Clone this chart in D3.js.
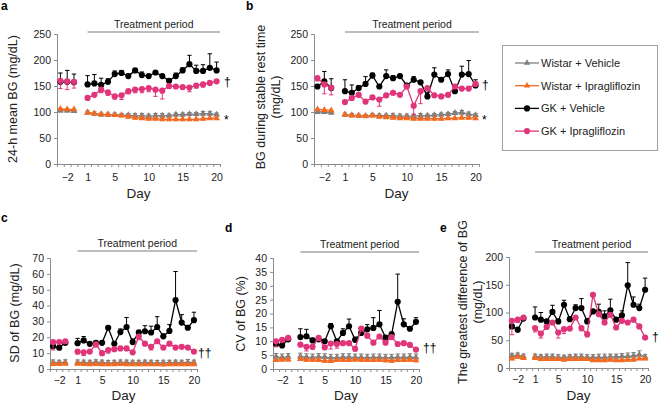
<!DOCTYPE html>
<html><head><meta charset="utf-8">
<script src="https://cdn.jsdelivr.net/npm/d3@7"></script>
<style>
html,body{margin:0;padding:0;background:#fff;}
svg{display:block;font-family:"Liberation Sans",Arial,sans-serif;}
</style></head><body>
<svg id="c" width="660" height="404"></svg>
<script>
// ---------- data ----------
const days = [-3,-2,-1,1,2,3,4,5,6,7,8,9,10,11,12,13,14,15,16,17,18,19,20];
const xTickDays = [-2,1,5,10,15,20];
const seriesNames = ["Wistar + Vehicle","Wistar + Ipragliflozin","GK + Vehicle","GK + Ipragliflozin"];

// panel a: 24-h mean BG
const aWV  = [103,103,102, 99,97,95,95,95,94,94,93,93,92,93,93,93,95,95,96,96,97,97,95];
const aWVe = [3,3,3, 3,3,3,3,3,3,3,4,4,4,4,4,3,3,3,3,3,4,4,3];
const aWI  = [106,105,105, 99,97,96,95,94,93,91,89,88,87,87,86,86,86,86,86,86,87,88,88];
const aWIe = [2,2,2, 2,2,2,2,2,2,2,2,2,2,2,2,2,2,2,2,2,2,2,2];
const aGV  = [158,158,157, 153,155,152,158,173,175,169,180,171,169,176,169,160,169,180,192,179,179,185,180];
const aGVe = [17,22,16, 17,17,13,6,6,5,4,2,6,2,2,3,3,6,5,17,11,12,27,16];
const aGI  = [160,159,158, 127,133,143,138,130,132,140,143,144,146,143,141,150,149,148,147,151,153,156,159];
const aGIe = [15,16,12, 2,3,6,6,5,8,5,6,7,7,13,16,5,4,4,8,5,5,3,2];

// panel b: BG during stable rest time
const bWV  = [100,100,99, 95,94,93,92,94,93,93,93,92,92,92,93,93,94,95,96,98,99,96,94];
const bWVe = [3,3,3, 3,3,3,3,3,3,3,4,4,4,4,4,3,3,3,3,3,4,4,3];
const bWI  = [105,104,103, 95,93,93,92,93,91,90,89,88,88,87,87,87,87,87,88,88,89,89,88];
const bWIe = [2,2,2, 2,2,2,2,2,2,2,2,2,2,2,2,2,2,2,2,2,2,2,2];
const bGV  = [149,159,146, 140,137,146,154,170,149,169,165,169,151,162,157,130,172,162,173,140,172,173,151];
const bGVe = [4,19,18, 22,15,5,14,5,4,12,5,3,4,6,3,8,13,4,8,6,16,26,11];
const bGI  = [165,153,147, 119,127,133,120,128,124,132,137,133,149,112,140,146,132,130,133,149,145,145,154];
const bGIe = [5,18,14, 3,4,4,4,4,13,4,4,3,3,17,24,4,3,4,4,3,3,3,3];

// panel c: SD of BG
const cWV  = [4.2,4.0,4.3, 4.2,4.1,4.0,4.3,4.1,3.9,4.0,4.2,4.1,4.0,4.0,4.1,4.0,3.9,4.0,4.0,4.1,4.0,4.2,4.1];
const cWVe = [1.5,1.5,1.5, 1.5,1.5,1.5,1.5,1.5,1.5,1.5,1.5,1.5,1.5,1.5,1.5,1.5,1.5,1.5,1.5,1.5,1.5,1.8,1.5];
const cWI  = [3.2,3.1,3.3, 3.3,3.1,3.0,3.1,3.0,2.9,3.0,3.1,3.0,3.0,2.9,2.9,2.9,2.9,2.8,2.9,3.0,3.0,3.0,3.0];
const cWIe = [0.6,0.6,0.6, 0.6,0.6,0.6,0.6,0.6,0.6,0.6,0.6,0.6,0.6,0.6,0.6,0.6,0.6,0.6,0.6,0.6,0.6,0.6,0.6];
const cGV  = [14.4,13.4,16.5, 16.3,18,15.9,16.5,16.5,26,15.9,23.3,26.5,17,23,23.8,23,26.5,20.6,24,43.5,29.3,26,30.8];
const cGVe = [2,1.5,1.5, 3,2.5,1,1,1,1,1,2,6,2,1.5,3.5,4,6.5,1.5,4,18,5,1.5,5];
const cGI  = [17,17,17.5, 11,10.5,11,15.5,10,12,12.5,13,13,10.5,20.5,16,14,17.5,13.5,16,13.5,14,13.5,11];
const cGIe = [5,1,1, 1.5,2,1,1.5,1.5,2,1,1,1,1,2,1,2,1,1,1,1,1,1,1];

// panel d: CV of BG
const dWV  = [4.4,4.2,4.4, 4.5,4.3,4.2,4.4,4.3,4.1,4.1,4.3,4.3,4.2,4.2,4.1,4.2,4.2,4.1,4.1,4.2,4.2,4.3,4.2];
const dWVe = [1.2,1.2,1.2, 1.2,1.2,1.2,1.2,1.2,1.2,1.2,1.2,1.2,1.2,1.2,1.2,1.2,1.2,1.2,1.2,1.2,1.2,1.2,1.2];
const dWI  = [3.2,3.4,3.4, 3.6,3.3,3.3,3.2,3.0,2.9,3.2,3.3,3.2,3.4,3.3,3.2,3.2,3.3,3.1,3.0,3.2,3.2,3.3,3.1];
const dWIe = [0.5,0.5,0.5, 0.5,0.5,0.5,0.5,0.5,0.5,0.5,0.5,0.5,0.5,0.5,0.5,0.5,0.5,0.5,0.5,0.5,0.5,0.5,0.5];
const dGV  = [9,8.5,10.7, 11.5,11.8,10.3,10.7,10,15.4,10,13,15.4,10.5,13,14.3,14.8,16.1,11.3,12.5,24.2,16.1,14.5,17];
const dGVe = [1,1,0.5, 3,2.5,0.8,0.5,0.5,1,0.5,1.5,2.6,1,0.8,1.7,3.7,5,0.8,0.8,10,2,0.8,1.5];
const dGI  = [10,10.5,11.2, 8.8,8,8,11.2,7.8,9.2,9,9.3,9.3,7.3,14.6,12,9.5,11.7,9.5,11.5,9,9.3,8.7,7];
const dGIe = [2,0.8,0.5, 0.8,1.5,0.8,0.6,0.8,2,1.5,0.6,0.5,0.8,0.6,0.8,0.6,0.6,0.6,0.6,0.6,0.6,0.8,0.6];

// panel e: greatest difference of BG
const eWV  = [22,23,21, 21,20,20,20,19,19,20,20,20,19,19,19,19,20,20,21,21,22,24,20];
const eWVe = [4,4,4, 4,4,5,5,5,4,4,5,5,5,5,6,6,5,5,5,6,6,7,4];
const eWI  = [17,20,18, 18,16,16,16,16,15,16,16,16,16,14,14,14,15,14,14,15,15,17,17];
const eWIe = [2,2,2, 2,2,2,2,2,2,2,2,2,2,2,2,2,2,2,2,2,2,2,2];
const eGV  = [75,69,89, 91,87,84,101,84,114,88,108,108,84,102,101,93,104,87,95,149,114,108,141];
const eGVe = [8,3,2, 19,13,3,12,3,8,3,6,17,5,3,14,10,20,3,8,41,14,7,21];
const eGI  = [85,87,91, 72,62,74,82,64,70,71,91,72,61,132,97,82,96,73,85,82,87,75,55];
const eGIe = [25,5,3, 7,8,3,3,10,8,3,3,5,5,3,3,3,3,3,3,3,3,4,3];

// ---------- styles ----------
const colors = ["#7f7f7f","#f26a21","#000000","#e0357a"];
const shapes = ["tri","tri","circ","circ"];
const errDir = ["both","down","up","down"];
const axisColor = "#8c8c8c";
const tickFont = 10.5;

const svg = d3.select("#c");

function drawPanel(o){
  const g = svg.append("g");
  const x = d3.scaleLinear().domain([-3.5,20.5]).range([o.x0,o.x1]);
  const y = d3.scaleLinear().domain([0,o.ymax]).range([o.yb,o.yt]);

  // y axis
  const ya = g.append("g").attr("transform",`translate(${o.x0},0)`)
    .call(d3.axisLeft(y).tickValues(d3.range(0,o.ymax+0.001,o.ystep)).tickSize(3).tickPadding(3));
  ya.select(".domain").attr("stroke",axisColor);
  ya.selectAll(".tick line").attr("stroke",axisColor);
  ya.selectAll(".tick text").attr("font-size",tickFont).attr("fill","#222").attr("font-family","Liberation Sans, Arial, sans-serif");

  // x axis (boundary ticks)
  const bounds = d3.range(-3.5,20.51,1);
  const xa = g.append("g").attr("transform",`translate(0,${o.yb})`)
    .call(d3.axisBottom(x).tickValues(bounds).tickSize(3).tickSizeOuter(0).tickFormat(""));
  xa.select(".domain").attr("stroke",axisColor);
  xa.selectAll(".tick line").attr("stroke",axisColor);
  const xl = g.append("g").attr("transform",`translate(0,${o.yb})`)
    .call(d3.axisBottom(x).tickValues(xTickDays).tickSize(0).tickPadding(o.labPad));
  xl.select(".domain").remove();
  xl.selectAll(".tick text").attr("font-size",tickFont).attr("fill","#222").attr("font-family","Liberation Sans, Arial, sans-serif");

  // x title
  g.append("text").attr("x",(o.x0+o.x1)/2).attr("y",o.dayY).attr("text-anchor","middle")
    .attr("font-size",13.5).attr("fill","#222").text("Day");

  // y title
  const yt = g.append("text").attr("transform",`translate(${o.ytx},${o.yty}) rotate(-90)`)
    .attr("text-anchor","middle").attr("font-size",12.5).attr("fill","#222");
  o.ytitle.forEach((t,i)=>{
    yt.append("tspan").attr("x",0).attr("dy", i===0 ? (o.ytitle.length>1? -1 : 0) : 15).text(t);
  });

  // treatment period
  g.append("line").attr("x1",x(1)).attr("x2",o.x1).attr("y1",o.tpY).attr("y2",o.tpY)
    .attr("stroke","#a6a6a6").attr("stroke-width",1.3);
  g.append("text").attr("x",(x(1)+o.x1)/2).attr("y",o.tpY-4).attr("text-anchor","middle")
    .attr("font-size",tickFont).attr("fill","#222").text("Treatment period");

  // panel letter
  g.append("text").attr("x",o.lx).attr("y",o.ly).attr("font-size",12).attr("font-weight","bold").attr("fill","#000").text(o.letter);

  // series
  o.series.forEach((s,si)=>{
    const col = colors[si];
    const pts = days.map((d,i)=>({d, v:s[0][i], e:s[1][i]}));
    const line = d3.line().x(p=>x(p.d)).y(p=>y(p.v));
    const sg = g.append("g");
    [pts.filter(p=>p.d<0), pts.filter(p=>p.d>0)].forEach(seg=>{
      sg.append("path").attr("d",line(seg)).attr("fill","none").attr("stroke",col).attr("stroke-width",1.3);
    });
    // error bars
    const dir = errDir[si];
    pts.forEach(p=>{
      const cx = x(p.d);
      const ends = [];
      if(dir==="up"||dir==="both") ends.push(p.v+p.e);
      if(dir==="down"||dir==="both") ends.push(p.v-p.e);
      ends.forEach(ev=>{
        sg.append("line").attr("x1",cx).attr("x2",cx).attr("y1",y(p.v)).attr("y2",y(ev)).attr("stroke",col).attr("stroke-width",1);
        sg.append("line").attr("x1",cx-2.2).attr("x2",cx+2.2).attr("y1",y(ev)).attr("y2",y(ev)).attr("stroke",col).attr("stroke-width",1);
      });
    });
    // markers
    const sym = shapes[si]==="tri" ? d3.symbolTriangle : d3.symbolCircle;
    const size = shapes[si]==="tri" ? 20 : 30;
    sg.selectAll("path.m").data(pts).enter().append("path").attr("class","m")
      .attr("d",d3.symbol().type(sym).size(size)())
      .attr("transform",p=>`translate(${x(p.d)},${y(p.v)})`)
      .attr("fill",col);
  });

  // significance marks
  o.marks.forEach(m=>{
    g.append("text").attr("x",m[0]).attr("y",m[1]).attr("font-size",m[3]||12).attr("fill","#000").text(m[2]);
  });
}

drawPanel({letter:"a",lx:1,ly:10,x0:57,x1:220,yt:34,yb:164,ymax:250,ystep:50,labPad:10,dayY:198,
  ytitle:["24-h mean BG (mg/dL)"],ytx:17,yty:99,tpY:32,
  series:[[aWV,aWVe],[aWI,aWIe],[aGV,aGVe],[aGI,aGIe]],
  marks:[[224,86,"†"],[224,124,"*"]]});

drawPanel({letter:"b",lx:246,ly:10,x0:314,x1:479,yt:34,yb:164,ymax:250,ystep:50,labPad:10,dayY:198,
  ytitle:["BG during stable rest time","(mg/dL)"],ytx:266,yty:97,tpY:32,
  series:[[bWV,bWVe],[bWI,bWIe],[bGV,bGVe],[bGI,bGIe]],
  marks:[[482,89,"†"],[482,124,"*"]]});

drawPanel({letter:"c",lx:1,ly:222,x0:50,x1:197,yt:258,yb:369,ymax:70,ystep:10,labPad:8,dayY:400,
  ytitle:["SD of BG (mg/dL)"],ytx:19,yty:313,tpY:251,
  series:[[cWV,cWVe],[cWI,cWIe],[cGV,cGVe],[cGI,cGIe]],
  marks:[[198,357,"††"]]});

drawPanel({letter:"d",lx:225,ly:232,x0:273,x1:419,yt:258,yb:369,ymax:40,ystep:5,labPad:8,dayY:400,
  ytitle:["CV of BG (%)"],ytx:245,yty:314,tpY:252,
  series:[[dWV,dWVe],[dWI,dWIe],[dGV,dGVe],[dGI,dGIe]],
  marks:[[423,352,"††"]]});

drawPanel({letter:"e",lx:440,ly:232,x0:509,x1:648,yt:257,yb:368,ymax:200,ystep:50,labPad:8,dayY:400,
  ytitle:["The greatest difference of BG","(mg/dL)"],ytx:468,yty:302,tpY:252,
  series:[[eWV,eWVe],[eWI,eWIe],[eGV,eGVe],[eGI,eGIe]],
  marks:[[652,341,"†"]]});

// ---------- legend ----------
const lg = svg.append("g");
lg.append("rect").attr("x",502.5).attr("y",45.5).attr("width",155).attr("height",105)
  .attr("fill","#fff").attr("stroke","#a0a0a0").attr("stroke-width",1);
seriesNames.forEach((n,i)=>{
  const yy = 63 + i*22.7;
  lg.append("line").attr("x1",515).attr("x2",539).attr("y1",yy).attr("y2",yy).attr("stroke",colors[i]).attr("stroke-width",1.3);
  const sym = shapes[i]==="tri" ? d3.symbolTriangle : d3.symbolCircle;
  lg.append("path").attr("d",d3.symbol().type(sym).size(shapes[i]==="tri"?18:30)())
    .attr("transform",`translate(527,${yy})`).attr("fill",colors[i]);
  lg.append("text").attr("x",541).attr("y",yy+4).attr("font-size",11).attr("fill","#222").text(n);
});
</script>
</body></html>
